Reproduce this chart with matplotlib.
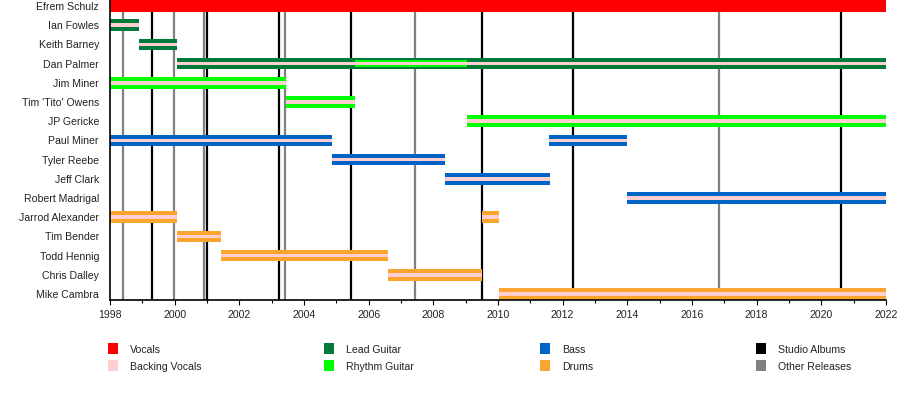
import matplotlib
matplotlib.use("Agg")
import matplotlib.pyplot as plt
from matplotlib.patches import Rectangle
from matplotlib.ticker import MultipleLocator

plt.rcParams['font.family'] = ['Liberation Sans', 'DejaVu Sans']

# ---------------- data ----------------
members = ["Efrem Schulz", "Ian Fowles", "Keith Barney", "Dan Palmer", "Jim Miner",
           "Tim 'Tito' Owens", "JP Gericke", "Paul Miner", "Tyler Reebe", "Jeff Clark",
           "Robert Madrigal", "Jarrod Alexander", "Tim Bender", "Todd Hennig",
           "Chris Dalley", "Mike Cambra"]

seg_member = ["Efrem Schulz", "Ian Fowles", "Keith Barney", "Dan Palmer", "Dan Palmer",
              "Jim Miner", "Tim 'Tito' Owens", "JP Gericke", "Paul Miner", "Paul Miner",
              "Tyler Reebe", "Jeff Clark", "Robert Madrigal", "Jarrod Alexander",
              "Jarrod Alexander", "Tim Bender", "Todd Hennig", "Chris Dalley", "Mike Cambra"]
seg_role = ["Vocals", "Lead Guitar", "Lead Guitar", "Lead Guitar", "Rhythm Guitar",
            "Rhythm Guitar", "Rhythm Guitar", "Rhythm Guitar", "Bass", "Bass",
            "Bass", "Bass", "Bass", "Drums",
            "Drums", "Drums", "Drums", "Drums", "Drums"]
seg_start = [1998.0, 1998.0, 1998.89, 2000.08, 2005.58,
             1998.0, 2003.45, 2009.03, 1998.0, 2011.58,
             2004.88, 2008.35, 2014.0, 1998.0,
             2009.5, 2000.08, 2001.42, 2006.59, 2010.03]
seg_end = [2022.0, 1998.89, 2000.08, 2022.0, 2009.03,
           2003.45, 2005.58, 2022.0, 2004.88, 2014.0,
           2008.35, 2011.6, 2022.0, 2000.08,
           2010.03, 2001.42, 2006.59, 2009.5, 2022.0]
seg_backing = [False, True, True, True, True,
               True, True, True, True, True,
               True, True, True, True,
               True, True, True, True, True]

studio_albums = [1999.31, 2001.01, 2003.24, 2005.44, 2009.52, 2012.33, 2020.62]
other_releases = [1998.41, 1999.98, 2000.91, 2003.42, 2007.44, 2016.85]

year_start, year_end = 1998, 2022

legend_labels = [["Vocals", "Backing Vocals"], ["Lead Guitar", "Rhythm Guitar"],
                 ["Bass", "Drums"], ["Studio Albums", "Other Releases"]]

colors = {"Vocals": "#FF0000", "Backing Vocals": "#FFCFCF",
          "Lead Guitar": "#007A3B", "Rhythm Guitar": "#00FF00",
          "Bass": "#0064C6", "Drums": "#FBA42E",
          "Studio Albums": "#000000", "Other Releases": "#808080"}

# ---------------- figure ----------------
W, H = 900, 420
fig = plt.figure(figsize=(W / 100, H / 100), dpi=100)
ax = fig.add_axes([110 / W, 1 - 300 / H, (886 - 110) / W, 300 / H])

row = {m: i for i, m in enumerate(members)}
full_h = 0.61
thin_h = 0.40
pink_h = 0.18

drawn = []
for m, r, s, e, b in zip(seg_member, seg_role, seg_start, seg_end, seg_backing):
    y = row[m]
    overlaps = any(dm == m and ds < e and de > s for dm, ds, de in drawn)
    h = thin_h if overlaps else full_h
    ax.barh(y, e - s, left=s, height=h, color=colors[r], zorder=3 + overlaps, linewidth=0)
    if b:
        ax.barh(y, e - s, left=s, height=pink_h, color=colors["Backing Vocals"],
                zorder=3.5 + overlaps, linewidth=0)
    drawn.append((m, s, e))

for x in studio_albums:
    ax.axvline(x, color=colors["Studio Albums"], linewidth=1.6, zorder=2)
for x in other_releases:
    ax.axvline(x, color=colors["Other Releases"], linewidth=1.6, zorder=2)

ax.set_xlim(year_start, year_end)
ax.set_ylim(len(members) - 1 + 0.3125, -0.3125)
ax.set_yticks(range(len(members)))
ax.set_yticklabels(members)
ax.xaxis.set_major_locator(MultipleLocator(2))
ax.xaxis.set_minor_locator(MultipleLocator(1))
ax.tick_params(axis='y', length=0, pad=8, labelsize=7.6, labelcolor='#222222')
ax.tick_params(axis='x', which='major', length=3.5, width=0.8, pad=4,
               labelsize=7.6, labelcolor='#222222')
ax.tick_params(axis='x', which='minor', length=2.0, width=0.8)
for sp in ['top', 'right']:
    ax.spines[sp].set_visible(False)
for sp in ['left', 'bottom']:
    ax.spines[sp].set_linewidth(1.2)
    ax.spines[sp].set_zorder(5)

# ---------------- legend ----------------
col_x = [108, 324, 540, 756]
row_top = [343, 360]
for cx, labels in zip(col_x, legend_labels):
    for ry, lab in zip(row_top, labels):
        fig.add_artist(Rectangle((cx / W, 1 - (ry + 11) / H), 10 / W, 11 / H,
                                 transform=fig.transFigure, color=colors[lab], linewidth=0))
        fig.text((cx + 22) / W, 1 - (ry + 7) / H, lab, ha='left', va='center',
                 fontsize=7.6, color='#222222')

fig.savefig("out.png", dpi=100, facecolor='white')
